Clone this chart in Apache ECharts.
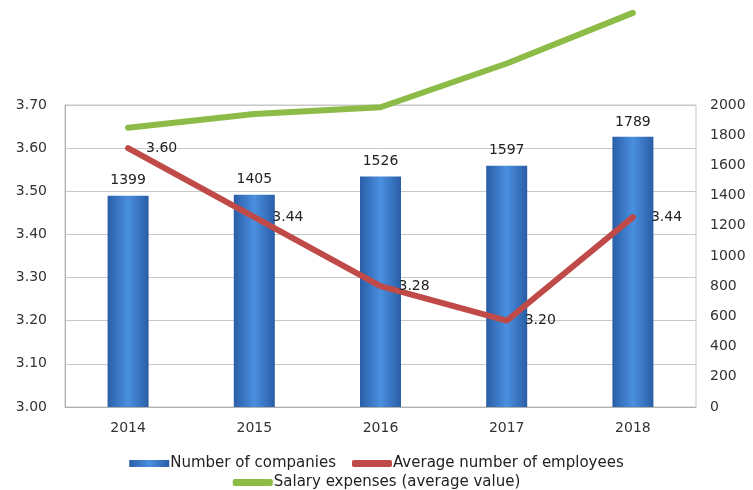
<!DOCTYPE html>
<html><head><meta charset="utf-8">
<script src="https://cdn.jsdelivr.net/npm/echarts@6/dist/echarts.min.js"></script>
<style>html,body{margin:0;padding:0;background:#fff}#c{width:753px;height:490px}</style>
</head><body><div id="c"></div>
<script>
const categories = ['2014','2015','2016','2017','2018'];
const companies = [1399, 1405, 1526, 1597, 1789];
const employees = [3.60, 3.44, 3.28, 3.20, 3.44];
const salary = [1850, 1940, 1985, 2275, 2610];
const leftTicks = [3.00, 3.70, 0.10];
const rightTicks = [0, 2000, 200];

const FONT = 'DejaVu Sans';
const chart = echarts.init(document.getElementById('c'), null, {renderer:'canvas'});
const legendText = {fontSize:15, color:'#222', fontFamily:FONT, padding:[0,0,0,-4]};
chart.setOption({
  animation:false,
  backgroundColor:'#fff',
  textStyle:{fontFamily:FONT},
  grid:{left:65, right:57, top:105, bottom:83, show:true, borderColor:'#c4c4c4', borderWidth:1},
  legend:[
    {data:[{name:'Number of companies', icon:'rect'},{name:'Average number of employees', icon:'roundRect'}],
     top:451, left:'center', itemWidth:40, itemHeight:7, itemGap:16, textStyle:legendText},
    {data:[{name:'Salary expenses (average value)', icon:'roundRect'}], top:470, left:'center',
     itemWidth:40, itemHeight:7, textStyle:legendText}
  ],
  xAxis:{type:'category', data:categories,
    axisLine:{lineStyle:{color:'#b0b0b0'}}, axisTick:{show:false},
    axisLabel:{fontSize:14, color:'#333', margin:14, fontFamily:FONT}},
  yAxis:[
    {type:'value', min:leftTicks[0], max:leftTicks[1], interval:leftTicks[2], position:'left',
     axisLine:{show:true, lineStyle:{color:'#b0b0b0'}}, axisTick:{show:false},
     splitLine:{lineStyle:{color:'#c8c8c8'}},
     axisLabel:{fontSize:14, color:'#333', margin:18, formatter:v=>v.toFixed(2), fontFamily:FONT}},
    {type:'value', min:rightTicks[0], max:rightTicks[1], interval:rightTicks[2], position:'right',
     axisLine:{show:false}, axisTick:{show:false}, splitLine:{show:false},
     axisLabel:{fontSize:14, color:'#333', margin:14, formatter:v=>String(v), fontFamily:FONT}}
  ],
  series:[
    {name:'Number of companies', type:'bar', yAxisIndex:1, data:companies, barWidth:41,
     itemStyle:{color:new echarts.graphic.LinearGradient(0,0,1,0,[
       {offset:0,color:'#2a5ea6'},{offset:0.5,color:'#4a8fe0'},{offset:1,color:'#2a5ea6'}])},
     label:{show:true, position:'top', distance:8, fontSize:14, color:'#222', fontFamily:FONT}},
    {name:'Average number of employees', type:'line', yAxisIndex:0, data:employees,
     symbol:'circle', symbolSize:4, showSymbol:true,
     lineStyle:{width:6, color:'#bf4a48', cap:'round'}, itemStyle:{color:'#bf4a48'},
     label:{show:true, position:'right', distance:16, fontSize:14, color:'#222', fontFamily:FONT,
       formatter:p=>p.value.toFixed(2)}},
    {name:'Salary expenses (average value)', type:'line', yAxisIndex:1, data:salary, clip:false,
     symbol:'none', lineStyle:{width:6, color:'#8dbb47', cap:'round'}, itemStyle:{color:'#8dbb47'}}
  ]
});
</script></body></html>
